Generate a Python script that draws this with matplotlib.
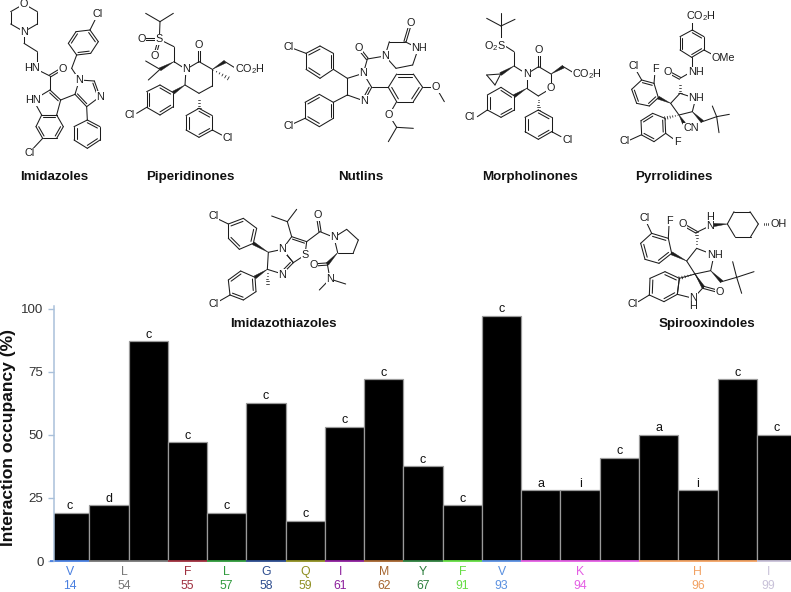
"""
plot.py

Interaction occupancy per residue, with the inhibitor scaffold
structures drawn above the bars.
"""

import numpy as np
import matplotlib
matplotlib.use('Agg')
import matplotlib.pyplot as plt
from matplotlib.patches import Polygon

plt.rcParams['font.family'] = ['Liberation Sans', 'DejaVu Sans']
plt.rcParams['mathtext.default'] = 'regular'

W, H = 791, 592
INK = '#1c1c1c'

# Chart data
occupancy = [19, 22, 87, 47, 19, 62.5, 16, 53, 72, 37.5, 22, 97, 28, 28, 41, 50, 28, 72, 50]
contact_type = ['c', 'd', 'c', 'c', 'c', 'c', 'c', 'c', 'c', 'c', 'c', 'c', 'a', 'i', 'c', 'a', 'i', 'c', 'c']
residues = ['V', 'L', 'F', 'L', 'G', 'Q', 'I', 'M', 'Y', 'F', 'V', 'K', 'H', 'I']
res_numbers = ['14', '54', '55', '57', '58', '59', '61', '62', '67', '91', '93', '94', '96', '99']
res_first_bar = [0, 1, 3, 4, 5, 6, 7, 8, 9, 10, 11, 12, 15, 18]
res_bar_count = [1, 2, 1, 1, 1, 1, 1, 1, 1, 1, 1, 3, 3, 1]
res_colors = ['#4a80e0', '#777777', '#9e2f3e', '#2f9a3c', '#2c4c8e', '#8f8f22', '#8c1f9c',
              '#a5652f', '#2f7f3f', '#66dd44', '#5a90e0', '#e45fe4', '#f2a263', '#c9c2d9']
# small shift (in bars) of labels that do not sit on the middle of their group
res_nudge = {1: -0.1, 6: -0.1, 13: -0.2}
y_ticks = [0, 25, 50, 75, 100]

fig = plt.figure(figsize=(W / 100, H / 100), dpi=100)

# Bars
left, bottom, top = 54.3, 561, 308.7
ax = fig.add_axes([left / W, 1 - bottom / H, (W - left) / W, (bottom - top) / H])
xs = np.arange(len(occupancy))
ax.bar(xs, occupancy, width=1, color='black', edgecolor='#9a9a9a', linewidth=0.9, zorder=2)
ax.set_xlim(-0.39, 18.37)
ax.set_ylim(0, 100)
for x, v, t in zip(xs, occupancy, contact_type):
    ax.annotate(t, (x, v), xytext=(0, 0.6), textcoords='offset points', ha='center',
                va='bottom', fontsize=9, color='#111111', annotation_clip=False)

for s in ['top', 'right', 'bottom']:
    ax.spines[s].set_visible(False)
ax.spines['left'].set_color('#a9c0da')
ax.spines['left'].set_linewidth(1.1)
ax.spines['left'].set_bounds(0, 101)
ax.spines['left'].set_zorder(5)
ax.set_xticks([])
ax.set_yticks(y_ticks)
ax.tick_params(axis='y', length=4.5, width=1.0, color='#a9c0da', labelsize=9.6,
               labelcolor='#333333', pad=3.2)

for i, (r, n, first, count, c) in enumerate(zip(residues, res_numbers, res_first_bar,
                                                res_bar_count, res_colors)):
    ax.plot([first - 0.5, first + count - 0.5], [0, 0], color=c, lw=1.3, zorder=4,
            solid_capstyle='butt', clip_on=False)
    xc = first + (count - 1) / 2 + res_nudge.get(i, 0)
    ax.annotate(r, (xc, 0), xytext=(0, -8), textcoords='offset points',
                ha='center', va='center', fontsize=8.8, color=c, annotation_clip=False)
    ax.annotate(n, (xc, 0), xytext=(0, -17.8), textcoords='offset points',
                ha='center', va='center', fontsize=8.8, color=c, annotation_clip=False)

fig.text(9 / W, 1 - 438 / H, 'Interaction occupancy (%)', rotation=90, fontsize=12.6,
         fontweight='bold', ha='center', va='center', color='#111111')

# Overlay in pixel coordinates for the structures
mol = fig.add_axes([0, 0, 1, 1], facecolor='none')
mol.set_xlim(0, W)
mol.set_ylim(H, 0)
mol.axis('off')


def seg(p, q, lw=0.75):
    mol.plot([p[0], q[0]], [p[1], q[1]], color=INK, lw=lw, solid_capstyle='round', zorder=10)


def draw_mol(ox, oy, rings=(), bonds=(), doubles=(), wedges=(), hashes=(), labels=()):
    """Draw a skeletal formula given in 3x crop coordinates relative to (ox, oy)."""
    def px(p):
        return np.array([ox + p[0] / 3, oy + p[1] / 3], dtype=float)

    for pts, dbl in rings:
        pts = [px(p) for p in pts]
        cen = np.mean(pts, axis=0)
        for i, p in enumerate(pts):
            q = pts[(i + 1) % len(pts)]
            seg(p, q)
            if i in dbl:
                a = p + (cen - p) * 0.2
                b = q + (cen - q) * 0.2
                seg(a, b)
    for p, q in bonds:
        seg(px(p), px(q))
    for p, q in doubles:
        p, q = px(p), px(q)
        d = q - p
        n = np.array([-d[1], d[0]]) / np.hypot(*d) * 1.1
        seg(p + n, q + n)
        seg(p - n, q - n)
    for p, q in wedges:
        p, q = px(p), px(q)
        d = q - p
        n = np.array([-d[1], d[0]]) / np.hypot(*d) * 1.6
        mol.add_patch(Polygon([p, q + n, q - n], closed=True, fc=INK, ec=INK, lw=0.3, zorder=10))
    for p, q in hashes:
        p, q = px(p), px(q)
        d = q - p
        n = np.array([-d[1], d[0]]) / np.hypot(*d)
        for t in np.linspace(0.08, 1, 6):
            c = p + d * t
            seg(c - n * 1.8 * t, c + n * 1.8 * t, lw=0.55)
    for p, s in labels:
        p = px(p)
        mol.text(p[0], p[1], s, fontsize=7.8, ha='center', va='center', color=INK, zorder=12,
                 linespacing=0.85, bbox=dict(fc='white', ec='none', pad=0.4))


def scaffold_title(x, y, s):
    mol.text(x, y, s, fontsize=9.6, fontweight='bold', ha='center', va='center', color='#111111')


# Imidazoles
draw_mol(0, 0,
         rings=[([(72, 12), (112, 35), (112, 72), (72, 95), (32, 72), (32, 35)], []),
                ([(150, 270), (182, 300), (170, 345), (125, 345), (100, 300)], [0]),
                ([(170, 345), (190, 380), (170, 415), (128, 415), (108, 380), (125, 345)], [1, 3, 5]),
                ([(225, 283), (238, 240), (283, 243), (300, 290), (260, 320)], [2, 4]),
                ([(262, 360), (300, 380), (300, 420), (262, 445), (222, 420), (222, 380)], [0, 2, 4]),
                ([(270, 90), (295, 125), (272, 160), (230, 165), (205, 130), (228, 95)], [0, 2, 4])],
         bonds=[((72, 95), (72, 130)), ((72, 130), (112, 155)), ((112, 155), (112, 203)),
                ((100, 203), (150, 228)), ((150, 228), (150, 270)), ((182, 300), (225, 283)),
                ((260, 320), (262, 360)), ((238, 240), (215, 205)), ((215, 205), (230, 165)),
                ((270, 90), (285, 60)), ((128, 415), (100, 445))],
         doubles=[((150, 228), (185, 207))],
         labels=[((72, 12), 'O'), ((72, 95), 'N'), ((97, 203), 'HN'), ((187, 206), 'O'),
                 ((100, 300), 'HN'), ((238, 240), 'N'), ((300, 290), 'N'), ((292, 42), 'Cl'),
                 ((90, 460), 'Cl')])

# Piperidinones
draw_mol(0, 0,
         rings=[([(558, 208), (597, 185), (637, 208), (637, 258), (597, 280), (555, 255)], []),
                ([(520, 278), (520, 320), (480, 345), (440, 322), (440, 275), (480, 255)], [1, 3, 5]),
                ([(597, 325), (637, 347), (637, 390), (597, 412), (558, 390), (558, 347)], [0, 2, 4])],
         bonds=[((437, 40), (480, 65)), ((480, 65), (520, 40)), ((480, 65), (478, 118)),
                ((478, 118), (522, 140)), ((522, 140), (522, 185)), ((522, 185), (558, 208)),
                ((480, 208), (437, 183)), ((480, 208), (445, 240)), ((675, 185), (712, 208)),
                ((440, 322), (410, 340)), ((637, 390), (665, 405))],
         doubles=[((478, 118), (425, 118)), ((478, 118), (465, 165)), ((597, 185), (597, 135))],
         wedges=[((522, 185), (480, 208)), ((555, 255), (520, 278)), ((637, 208), (675, 185))],
         hashes=[((637, 208), (685, 235)), ((597, 280), (597, 325))],
         labels=[((478, 118), 'S'), ((425, 118), 'O'), ((465, 168), 'O'), ((597, 135), 'O'),
                 ((558, 208), 'N'), ((750, 208), 'CO$_2$H'), ((388, 345), 'Cl'), ((683, 413), 'Cl')])

# Nutlins
draw_mol(270, 0,
         rings=[([(108, 160), (150, 138), (190, 160), (190, 208), (150, 235), (108, 208)], [0, 2, 4]),
                ([(232, 235), (280, 220), (305, 262), (283, 303), (232, 285)], [2]),
                ([(190, 307), (190, 355), (148, 380), (105, 355), (105, 307), (148, 283)], [0, 2, 4]),
                ([(345, 168), (358, 125), (405, 125), (445, 145), (428, 195), (378, 205)], []),
                ([(355, 262), (380, 222), (430, 222), (458, 262), (430, 305), (380, 305)], [1, 3, 5])],
         bonds=[((55, 140), (108, 160)), ((190, 208), (232, 235)), ((232, 285), (190, 307)),
                ((105, 355), (55, 378)), ((280, 220), (292, 177)), ((292, 177), (345, 168)),
                ((305, 262), (355, 262)), ((458, 262), (498, 262)), ((498, 262), (523, 305)),
                ((380, 305), (357, 345)), ((357, 345), (380, 382)), ((380, 382), (430, 385)),
                ((380, 382), (355, 425))],
         doubles=[((292, 177), (265, 143)), ((405, 125), (422, 68))],
         labels=[((55, 140), 'Cl'), ((55, 378), 'Cl'), ((280, 220), 'N'), ((283, 303), 'N'),
                 ((265, 143), 'O'), ((345, 168), 'N'), ((422, 68), 'O'), ((447, 145), 'NH'),
                 ((498, 262), 'O'), ((357, 345), 'O')])

# Morpholinones
draw_mol(270, 0,
         rings=[([(770, 222), (806, 200), (843, 222), (843, 265), (805, 288), (770, 265)], []),
                ([(692, 222), (650, 225), (675, 255)], []),
                ([(733, 288), (733, 330), (693, 352), (652, 330), (652, 285), (693, 262)], [1, 3, 5]),
                ([(805, 330), (845, 352), (845, 395), (805, 418), (765, 395), (765, 352)], [0, 2, 4])],
         bonds=[((693, 78), (650, 55)), ((693, 78), (735, 58)), ((693, 78), (693, 38)),
                ((693, 78), (693, 130)), ((693, 130), (732, 155)), ((732, 155), (732, 198)),
                ((732, 198), (770, 222)), ((880, 200), (917, 222)), ((652, 330), (622, 350)),
                ((845, 395), (873, 410))],
         doubles=[((806, 200), (806, 150))],
         wedges=[((732, 198), (692, 222)), ((770, 265), (733, 288)), ((843, 222), (880, 200))],
         hashes=[((805, 288), (805, 330))],
         labels=[((675, 137), 'O$_2$S'), ((770, 222), 'N'), ((806, 150), 'O'), ((843, 265), 'O'),
                 ((600, 352), 'Cl'), ((893, 420), 'Cl'), ((952, 222), 'CO$_2$H')])

# Pyrrolidines
draw_mol(530, 0,
         rings=[([(487, 90), (522, 110), (522, 150), (485, 172), (450, 150), (450, 110)], [0, 2, 4]),
                ([(450, 280), (497, 295), (487, 335), (447, 345), (422, 310)], []),
                ([(385, 293), (372, 250), (335, 240), (305, 268), (320, 310), (358, 318)], [1, 3, 5]),
                ([(405, 355), (368, 340), (333, 362), (335, 405), (372, 425), (407, 400)], [1, 3, 5])],
         bonds=[((487, 60), (487, 90)), ((522, 150), (550, 165)), ((485, 172), (485, 205)),
                ((485, 215), (450, 235)), ((335, 240), (318, 210)), ((372, 250), (375, 215)),
                ((517, 365), (560, 350)), ((560, 350), (547, 318)), ((560, 350), (598, 343)),
                ((560, 350), (567, 398)), ((333, 405), (300, 420)), ((407, 400), (432, 418))],
         doubles=[((450, 235), (413, 215))],
         wedges=[((422, 310), (385, 293)), ((487, 335), (517, 365)), ((447, 345), (462, 370))],
         hashes=[((450, 235), (450, 280)), ((447, 345), (405, 355))],
         labels=[((513, 47), 'CO$_2$H'), ((581, 175), 'OMe'), ((497, 217), 'NH'), ((413, 215), 'O'),
                 ((499, 295), 'NH'), ((312, 198), 'Cl'), ((375, 207), 'F'), ((483, 385), 'CN'),
                 ((283, 423), 'Cl'), ((441, 425), 'F')])

# Imidazothiazoles
draw_mol(200, 200,
         rings=[([(85, 72), (130, 55), (170, 85), (160, 130), (118, 148), (85, 115)], [0, 2, 4]),
                ([(205, 157), (247, 148), (280, 188), (247, 222), (202, 208)], [2]),
                ([(247, 148), (275, 110), (320, 125), (315, 165), (280, 188)], [1]),
                ([(402, 112), (440, 88), (475, 120), (460, 158), (413, 158)], []),
                ([(165, 232), (122, 213), (85, 240), (90, 285), (130, 300), (168, 275)], [1, 3, 5])],
         bonds=[((50, 55), (85, 72)), ((275, 110), (262, 65)), ((262, 65), (215, 48)),
                ((262, 65), (290, 28)), ((320, 125), (360, 95)), ((360, 95), (402, 112)),
                ((382, 192), (390, 237)), ((390, 237), (358, 270)), ((390, 237), (437, 252)),
                ((90, 285), (55, 305))],
         doubles=[((360, 95), (352, 45)), ((382, 192), (340, 195))],
         wedges=[((205, 157), (160, 130)), ((413, 158), (382, 192)), ((202, 208), (165, 232))],
         hashes=[((202, 208), (202, 252))],
         labels=[((40, 48), 'Cl'), ((247, 148), 'N'), ((247, 224), 'N'), ((315, 165), 'S'),
                 ((352, 45), 'O'), ((402, 112), 'N'), ((340, 195), 'O'), ((390, 237), 'N'),
                 ((42, 312), 'Cl')])

# Spirooxindoles
draw_mol(590, 200,
         rings=[([(185, 100), (235, 115), (245, 160), (207, 190), (165, 178), (152, 130)], [0, 2, 4]),
                ([(290, 183), (320, 145), (372, 165), (362, 212), (315, 222)], []),
                ([(412, 72), (432, 35), (480, 35), (505, 72), (482, 110), (435, 110)], []),
                ([(262, 283), (268, 235), (225, 215), (180, 235), (178, 285), (222, 305)], [1, 3, 5]),
                ([(315, 222), (340, 262), (310, 295), (262, 283), (268, 235)], [])],
         bonds=[((185, 100), (170, 68)), ((235, 115), (237, 75)), ((320, 97), (355, 80)),
                ((395, 245), (440, 232)), ((440, 232), (428, 185)), ((440, 232), (492, 215)),
                ((440, 232), (455, 280)), ((178, 285), (145, 305))],
         doubles=[((320, 97), (278, 73)), ((340, 262), (388, 275))],
         wedges=[((290, 183), (245, 160)), ((412, 72), (372, 75)), ((362, 212), (395, 245)),
                 ((315, 222), (340, 262))],
         hashes=[((320, 145), (320, 97)), ((505, 72), (542, 72)), ((315, 222), (268, 235))],
         labels=[((165, 55), 'Cl'), ((237, 62), 'F'), ((278, 73), 'O'), ((360, 64), 'H\nN'),
                 ((565, 73), 'OH'), ((374, 165), 'NH'), ((388, 275), 'O'),
                 ((310, 306), 'N\nH'), ((128, 312), 'Cl')])

scaffold_title(54.5, 177, 'Imidazoles')
scaffold_title(190.5, 177, 'Piperidinones')
scaffold_title(361, 177, 'Nutlins')
scaffold_title(530, 177, 'Morpholinones')
scaffold_title(674, 177, 'Pyrrolidines')
scaffold_title(283, 324, 'Imidazothiazoles')
scaffold_title(707, 324, 'Spirooxindoles')

plt.savefig('out.png', dpi=100)
plt.close()
